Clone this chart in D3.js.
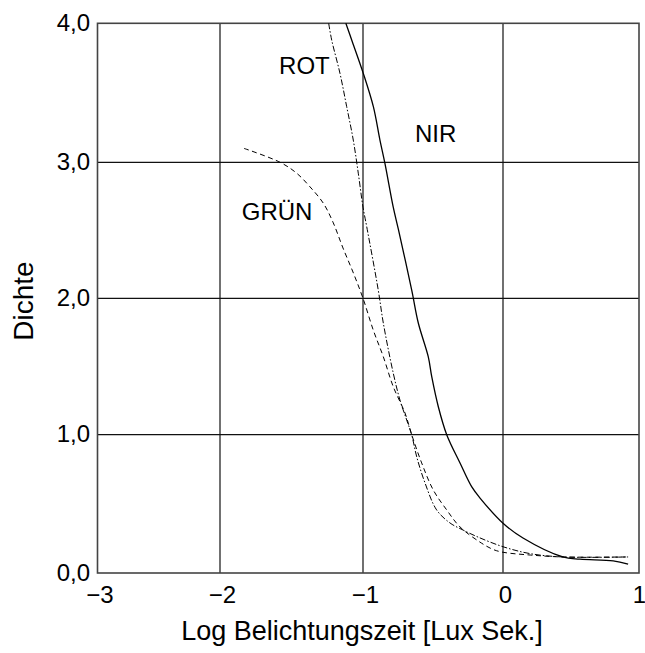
<!DOCTYPE html>
<html><head><meta charset="utf-8">
<script src="https://cdn.jsdelivr.net/npm/d3@7"></script>
<style>body{margin:0;background:#fff}svg{display:block}text{font-family:"Liberation Sans",Arial,Helvetica,sans-serif;fill:#000}</style>
</head><body>
<script>
// Data
const xTicks = [-3, -2, -1, 0, 1];
const xTickLabels = ["\u22123", "\u22122", "\u22121", "0", "1"];
const yTicks = [0, 1, 2, 3, 4];
const yTickLabels = ["0,0", "1,0", "2,0", "3,0", "4,0"];

const nirX = [-1.12, -1.079, -0.998, -0.926, -0.879, -0.843, -0.784, -0.748, -0.652, -0.605, -0.534, -0.509, -0.462, -0.402, -0.307, -0.224, -0.164, 0.0, 0.147, 0.44, 0.566, 0.81, 0.92];
const nirY = [4.0, 3.88, 3.64, 3.40, 3.16, 2.99, 2.67, 2.51, 2.06, 1.819, 1.572, 1.425, 1.205, 1.0, 0.795, 0.624, 0.542, 0.36, 0.253, 0.116, 0.10, 0.087, 0.065];

const rotX = [-1.24, -1.219, -1.161, -1.114, -1.068, -1.033, -1.0, -0.974, -0.891, -0.855, -0.784, -0.736, -0.688, -0.652, -0.616, -0.557, -0.474, -0.379, -0.286, -0.179, 0.0, 0.2, 0.44, 0.92];
const rotY = [4.0, 3.88, 3.64, 3.40, 3.16, 2.92, 2.67, 2.53, 2.06, 1.819, 1.452, 1.254, 1.108, 0.998, 0.839, 0.651, 0.456, 0.362, 0.311, 0.26, 0.19, 0.14, 0.116, 0.116];

const gruenX = [-1.832, -1.58, -1.464, -1.371, -1.278, -1.21, -1.14, -1.065, -1.0, -0.926, -0.855, -0.784, -0.70, -0.652, -0.581, -0.498, -0.402, -0.307, -0.155, -0.07, 0.0, 0.2, 0.44, 0.92];
const gruenY = [3.10, 3.0, 2.92, 2.82, 2.70, 2.56, 2.37, 2.18, 2.0, 1.765, 1.572, 1.352, 1.159, 1.0, 0.796, 0.60, 0.456, 0.333, 0.217, 0.17, 0.15, 0.13, 0.116, 0.116];

const curveNames = ["NIR", "ROT", "GRÜN"];
const labelX = [-0.629, -1.587, -1.848];
const labelY = [3.148, 3.635, 2.576];

const W = 645, H = 653;
const svg = d3.select("body").append("svg").attr("width", W).attr("height", H);

const x = d3.scaleLinear().domain(xTicks).range([97.5, 220, 363, 503, 639]);
const y = d3.scaleLinear().domain(yTicks).range([573, 434.7, 298.3, 162.3, 23.3]);

// grid
svg.append("g").selectAll("line").data(xTicks.slice(1, -1)).join("line")
  .attr("x1", d => x(d)).attr("x2", d => x(d)).attr("y1", y(4)).attr("y2", y(0))
  .attr("stroke", "#111").attr("stroke-width", 1.2);
svg.append("g").selectAll("line").data(yTicks.slice(1, -1)).join("line")
  .attr("y1", d => y(d)).attr("y2", d => y(d)).attr("x1", x(-3)).attr("x2", x(1))
  .attr("stroke", "#111").attr("stroke-width", 1.2);
// frame
svg.append("rect").attr("x", x(-3)).attr("y", y(4)).attr("width", x(1) - x(-3)).attr("height", y(0) - y(4))
  .attr("fill", "none").attr("stroke", "#444").attr("stroke-width", 1.6);

// axes (labels only)
const xAxis = d3.axisBottom(x).tickValues(xTicks).tickFormat((d, i) => xTickLabels[i]).tickSize(0).tickPadding(0);
const gx = svg.append("g").attr("transform", `translate(0,${y(0)})`).call(xAxis);
gx.select(".domain").remove();
gx.selectAll("text").attr("font-size", 24).attr("dy", null).attr("y", 30)
  .attr("dx", (d, i) => i === xTicks.length - 1 ? 0 : 2)
  .style("font-family", '"Liberation Sans",Arial,sans-serif').attr("fill", "#000");

const yAxis = d3.axisLeft(y).tickValues(yTicks).tickFormat((d, i) => yTickLabels[i]).tickSize(0).tickPadding(0);
const gy = svg.append("g").attr("transform", `translate(90,0)`).call(yAxis);
gy.select(".domain").remove();
gy.selectAll("text").attr("font-size", 24).attr("dy", "0.3em").attr("x", 0)
  .style("font-family", '"Liberation Sans",Arial,sans-serif').attr("fill", "#000");

// curves
const lineGen = d3.line().x(d => x(d[0])).y(d => y(d[1])).curve(d3.curveCatmullRom.alpha(0.5));
const series = [
  {xs: nirX, ys: nirY, dash: null, w: 1.3},
  {xs: rotX, ys: rotY, dash: "6,2,1.5,2", w: 1.0},
  {xs: gruenX, ys: gruenY, dash: "5,3.5", w: 1.0}
];
series.forEach(s => {
  svg.append("path").datum(s.xs.map((v, i) => [v, s.ys[i]]))
    .attr("d", lineGen).attr("fill", "none").attr("stroke", "#000")
    .attr("stroke-width", s.w).attr("stroke-dasharray", s.dash);
});

// curve labels
svg.append("g").selectAll("text").data(curveNames).join("text")
  .attr("x", (d, i) => x(labelX[i])).attr("y", (d, i) => y(labelY[i]))
  .attr("font-size", 24).text(d => d);

// axis titles
svg.append("text").attr("x", 362).attr("y", 640).attr("text-anchor", "middle")
  .attr("font-size", 27).text("Log Belichtungszeit [Lux Sek.]");
svg.append("text").attr("transform", "translate(33,301) rotate(-90)").attr("text-anchor", "middle")
  .attr("font-size", 28).text("Dichte");
</script>
</body></html>
